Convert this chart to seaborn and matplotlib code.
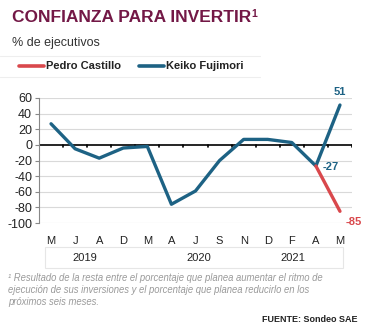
import matplotlib
matplotlib.use("Agg")
import matplotlib.pyplot as plt
import seaborn as sns
import pandas as pd
from matplotlib.patches import Rectangle
from matplotlib.lines import Line2D

months = ["M", "J", "A", "D", "M", "A", "J", "S", "N", "D", "F", "A", "M"]
keiko = [27, -5, -17, -4, -2, -76, -59, -20, 7, 7, 3, -27, 51]
castillo_idx = [11, 12]
castillo = [-27, -85]
years = ["2019", "2020", "2021"]
yticks = [60, 40, 20, 0, -20, -40, -60, -80, -100]

BLUE = "#1d6284"
RED = "#d9484c"
MAROON = "#731846"

sns.set_theme(style="white")
plt.rcParams["font.family"] = ["Liberation Sans", "DejaVu Sans"]

fig = plt.figure(figsize=(3.74, 3.35), dpi=100)
ax = fig.add_axes([39/374, 1-223/335, (352-39)/374, (223-98)/335])

df_k = pd.DataFrame({"x": list(range(len(months))), "y": keiko})
df_c = pd.DataFrame({"x": castillo_idx, "y": castillo})

for v in yticks:
    if v != 0:
        ax.axhline(v, color="#d9d9d9", lw=0.8, zorder=0)
ax.axhline(0, color="black", lw=1.2, zorder=1)
for b in range(1, len(months) + 1):
    ax.plot([b - 0.5, b - 0.5], [0, -2.5], color="black", lw=1.2, zorder=1)

sns.lineplot(data=df_c, x="x", y="y", ax=ax, color=RED, lw=2.4, zorder=3,
             solid_capstyle="round")
sns.lineplot(data=df_k, x="x", y="y", ax=ax, color=BLUE, lw=2.4, zorder=2,
             solid_capstyle="round")

ax.set_xlim(-0.5, len(months) - 0.5)
ax.set_ylim(-100, 60)
ax.set_yticks(yticks)
ax.set_yticklabels([str(v) for v in yticks], fontsize=9, color="#222222")
ax.set_xticks(range(len(months)))
ax.set_xticklabels(months, fontsize=8, color="#222222")
ax.tick_params(axis="x", length=0, pad=9)
ax.tick_params(axis="y", length=3, width=0.8, color="#888888", left=True, pad=2)
ax.set_xlabel("")
ax.set_ylabel("")
for s in ["top", "right", "bottom"]:
    ax.spines[s].set_visible(False)
ax.spines["left"].set_color("#888888")
ax.spines["left"].set_linewidth(0.8)

ax.annotate("51", (12, 51), xytext=(0, 6), textcoords="offset points",
            ha="center", va="bottom", fontsize=8, fontweight="bold", color=BLUE)
ax.annotate("-27", (11, -27), xytext=(5, -1), textcoords="offset points",
            ha="left", va="center", fontsize=8, fontweight="bold", color=BLUE)
ax.annotate("-85", (12, -85), xytext=(4, -8), textcoords="offset points",
            ha="left", va="center", fontsize=8, fontweight="bold", color=RED)

# title and subtitle
fig.text(12/374, 1-18/335, "CONFIANZA PARA INVERTIR", fontsize=12.5,
         fontweight="bold", color=MAROON, va="center", ha="left")
fig.text(251/374, 1-14/335, "1", fontsize=7.5, fontweight="bold",
         color=MAROON, va="center", ha="left")
fig.text(12/374, 1-43/335, "% de ejecutivos", fontsize=9, color="#333333",
         va="center", ha="left")

# legend band
for yy in (56, 77):
    fig.add_artist(Line2D([0, 260/374], [1-yy/335]*2, color="#eeeeee", lw=0.8))
fig.add_artist(Line2D([19/374, 44/374], [1-66/335]*2, color=RED, lw=2.6,
                      solid_capstyle="round"))
fig.text(46/374, 1-66/335, "Pedro Castillo", fontsize=8, fontweight="bold",
         color="#222222", va="center")
fig.add_artist(Line2D([139/374, 164/374], [1-66/335]*2, color=BLUE, lw=2.6,
                      solid_capstyle="round"))
fig.text(166/374, 1-66/335, "Keiko Fujimori", fontsize=8, fontweight="bold",
         color="#222222", va="center")

# year box
fig.add_artist(Rectangle((45/374, 1-268/335), (343-45)/374, 21/335,
                         fill=False, edgecolor="#e6e6e6", lw=0.8))
for yr, xp in zip(years, [85, 199, 293]):
    fig.text(xp/374, 1-258/335, yr, fontsize=8, color="#222222",
             ha="center", va="center")

# footnote
foot = ("¹ Resultado de la resta entre el porcentaje que planea aumentar el ritmo de\n"
        "ejecución de sus inversiones y el porcentaje que planea reducirlo en los\n"
        "próximos seis meses.")
fig.text(8/374, 1-273/335, foot, fontsize=6.85, style="italic", color="#9a9a9a",
         ha="left", va="top", linespacing=1.25)
fig.text(358/374, 1-320/335, "FUENTE: Sondeo SAE", fontsize=6.5,
         fontweight="bold", color="#222222", ha="right", va="center")

fig.savefig("out.png", dpi=100)
